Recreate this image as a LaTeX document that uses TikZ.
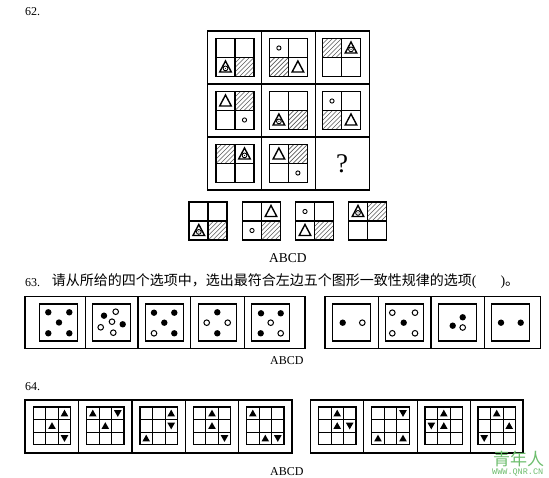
\documentclass[tikz,border=0pt]{standalone}
\usepackage{fontspec}
\setmainfont{Liberation Serif}
\newfontfamily\cjk{Noto Sans CJK SC}
\newfontfamily\wmmono{Liberation Mono}
\definecolor{wmgreen}{RGB}{110,190,110}
\tikzset{
 bigline/.style={line width=1.5pt},
 figline/.style={line width=1.7pt},
 markline/.style={line width=1.4pt, line join=miter},
 smallring/.style={line width=0.9pt},
 hatchline/.style={line width=0.6pt, black!65},
 boxline/.style={line width=1.1pt},
 dotopen/.style={line width=1pt, fill=white},
 gridouter/.style={line width=1.4pt},
 gridinner/.style={line width=0.7pt},
 lbl/.style={inner sep=0pt, font=\fontsize{12}{14}\selectfont},
}
\def\qTL{-9.5,-9.5}
\def\qTR{9.5,-9.5}
\def\qBL{-9.5,9.5}
\def\qBR{9.5,9.5}
\newcommand{\qhatch}[1]{\begin{scope}[shift={(#1)}]
  \clip (-9.5,-9.5) rectangle (9.5,9.5);
  \foreach \k in {-27,-22.5,...,27} \draw[hatchline] (\k-10,10)--(\k+10,-10);
 \end{scope}}
\newcommand{\qtri}[1]{\begin{scope}[shift={(#1)}]
  \draw[markline] (0,-6)--(5.8,5)--(-5.8,5)--cycle;
 \end{scope}}
\newcommand{\qtric}[1]{\begin{scope}[shift={(#1)}]
  \draw[markline] (0,-6)--(5.8,5)--(-5.8,5)--cycle;
  \draw[smallring] (0,1.4) circle (2.4);
  \fill (0,1.4) circle (0.6);
 \end{scope}}
\newcommand{\qring}[1]{\begin{scope}[shift={(#1)}]
  \draw[smallring] (0,0) circle (2.1);
 \end{scope}}
\newcommand{\qfig}[3]{\begin{scope}[shift={(#1,#2)}]
  #3
  \draw[figline] (-19,-19) rectangle (19,19);
  \draw[figline] (0,-19)--(0,19) (-19,0)--(19,0);
 \end{scope}}
\newcommand{\dsq}[3]{\begin{scope}[shift={(#1,#2)}]
  \draw[boxline] (-19,-18.5) rectangle (19,18.5);
  #3
 \end{scope}}
\newcommand{\mydotb}[2]{\fill (#1,#2) circle (3.2);}
\newcommand{\mydotw}[2]{\draw[dotopen] (#1,#2) circle (2.8);}
\newcommand{\gfig}[3]{\begin{scope}[shift={(#1,#2)}]
  \draw[gridinner] (-6.25,-18.75)--(-6.25,18.75) (6.25,-18.75)--(6.25,18.75)
                   (-18.75,-6.25)--(18.75,-6.25) (-18.75,6.25)--(18.75,6.25);
  \draw[gridouter] (-18.75,-18.75) rectangle (18.75,18.75);
  #3
 \end{scope}}
\newcommand{\gup}[2]{\fill[shift={({(#2-2)*12.5},{(#1-2)*12.5})}] (0,-3.6)--(3.8,3.1)--(-3.8,3.1)--cycle;}
\newcommand{\gdn}[2]{\fill[shift={({(#2-2)*12.5},{(#1-2)*12.5})}] (0,3.6)--(3.8,-3.1)--(-3.8,-3.1)--cycle;}
\begin{document}
\begin{tikzpicture}[x=1pt,y=-1pt]
\fill[white] (0,0) rectangle (549,478);
\useasboundingbox (0,0) rectangle (549,478);

% ---------- 62 ----------
\node[lbl, anchor=base west] (t62) at (25,15.5) {62.};
\draw[bigline] (207.5,31) rectangle (369.5,190);
\draw[bigline] (261.5,31)--(261.5,190) (315.5,31)--(315.5,190)
               (207.5,84)--(369.5,84) (207.5,137)--(369.5,137);
\qfig{235}{57.5}{\qtric{\qBL}\qhatch{\qBR}}
\qfig{288.4}{57.5}{\qring{\qTL}\qhatch{\qBL}\qtri{\qBR}}
\qfig{341.5}{57.5}{\qhatch{\qTL}\qtric{\qTR}}
\qfig{235}{110.5}{\qtri{\qTL}\qhatch{\qTR}\qring{\qBR}}
\qfig{288.4}{110.5}{\qtric{\qBL}\qhatch{\qBR}}
\qfig{341.5}{110.5}{\qring{\qTL}\qhatch{\qBL}\qtri{\qBR}}
\qfig{235}{163.5}{\qhatch{\qTL}\qtric{\qTR}}
\qfig{288.4}{163.5}{\qtri{\qTL}\qhatch{\qTR}\qring{\qBR}}
\node[inner sep=0pt, font=\fontsize{27}{30}\selectfont] (qm) at (342,164) {?};
\qfig{208.3}{221}{\qtric{\qBL}\qhatch{\qBR}}
\qfig{261.5}{221}{\qtri{\qTR}\qring{\qBL}\qhatch{\qBR}}
\qfig{314.5}{221}{\qring{\qTL}\qtri{\qBL}\qhatch{\qBR}}
\qfig{367.5}{221}{\qtric{\qTL}\qhatch{\qTR}}
\node[lbl, anchor=base west, font=\fontsize{13.5}{15}\selectfont] (ab62) at (269,263) {ABCD};

% ---------- 63 ----------
\node[lbl, anchor=base west] (t63) at (25,287) {63.};
\node[anchor=base west, inner sep=0pt, font=\cjk\fontsize{14}{14}\selectfont] (q63) at (51.7,286)
  {请从所给的四个选项中，选出最符合左边五个图形一致性规律的选项\rmfamily(\hspace{24pt})\cjk 。};
\draw[boxline] (25,296.7) rectangle (305,348.3);
\draw[boxline] (85.2,296.7)--(85.2,348.3) (138,296.7)--(138,348.3)
               (190.9,296.7)--(190.9,348.3) (244.2,296.7)--(244.2,348.3);
\dsq{58.8}{322.5}{}
\mydotb{48.3}{312.3}\mydotb{69.3}{312.3}\mydotb{59}{322.5}\mydotb{48.3}{333.3}\mydotb{69.3}{333.3}
\dsq{111.7}{322.5}{}
\mydotb{104}{315.7}\mydotw{115.7}{311.7}\mydotw{112}{321.7}\mydotb{122.7}{324.3}\mydotw{100.7}{327.3}\mydotw{113.3}{332.7}
\dsq{164.2}{322.5}{}
\mydotb{154}{312.7}\mydotb{174.3}{312.7}\mydotb{164.3}{322.7}\mydotw{154}{333.3}\mydotb{174.3}{333.3}
\dsq{217.5}{322.5}{}
\mydotb{217.3}{312.3}\mydotw{206.7}{322.7}\mydotw{227.7}{322.7}\mydotb{217.3}{333.3}
\dsq{270.8}{322.5}{}
\mydotb{261}{313.3}\mydotb{280.7}{313.3}\mydotw{270.7}{322.7}\mydotb{260.7}{333.3}\mydotw{280.7}{333.3}

\draw[boxline] (325,296.7) rectangle (540.5,348.3);
\draw[boxline] (378.3,296.7)--(378.3,348.3) (431,296.7)--(431,348.3) (484.3,296.7)--(484.3,348.3);
\dsq{351.7}{322.5}{}
\mydotb{342.7}{322.7}\mydotw{362.3}{322.7}
\dsq{404.2}{322.5}{}
\mydotw{392.3}{312.7}\mydotw{415}{312.7}\mydotb{403.7}{322.7}\mydotw{392.3}{333.3}\mydotw{415}{333.3}
\dsq{457.5}{322.5}{}
\mydotb{462.7}{317.3}\mydotb{452.7}{325.7}\mydotw{462.7}{327.5}
\dsq{510.5}{322.5}{}
\mydotb{501}{322.7}\mydotb{520.7}{322.7}
\node[lbl, anchor=base west] (ab63) at (270,365) {ABCD};

% ---------- 64 ----------
\node[lbl, anchor=base west] (t64) at (25,390) {64.};
\draw[boxline] (25,400) rectangle (292,453);
\draw[boxline] (78.7,400)--(78.7,453) (132,400)--(132,453)
               (185.3,400)--(185.3,453) (238.7,400)--(238.7,453);
\gfig{52}{425.8}{\gup{1}{3}\gup{2}{2}\gdn{3}{3}}
\gfig{105.3}{425.8}{\gup{1}{1}\gdn{1}{3}\gup{2}{2}}
\gfig{158.7}{425.8}{\gup{1}{3}\gdn{2}{3}\gup{3}{1}}
\gfig{212}{425.8}{\gup{1}{2}\gup{2}{2}\gdn{3}{3}}
\gfig{265.3}{425.8}{\gup{1}{1}\gup{3}{2}\gdn{3}{3}}
\draw[boxline] (310.7,400) rectangle (523,453);
\draw[boxline] (363.8,400)--(363.8,453) (417.2,400)--(417.2,453) (470.5,400)--(470.5,453);
\gfig{337.2}{425.8}{\gup{1}{2}\gup{2}{2}\gdn{2}{3}}
\gfig{390.5}{425.8}{\gdn{1}{3}\gup{3}{1}\gup{3}{3}}
\gfig{443.8}{425.8}{\gup{1}{2}\gdn{2}{1}\gup{2}{2}}
\gfig{496.7}{425.8}{\gup{1}{2}\gup{2}{3}\gdn{3}{1}}
\node[lbl, anchor=base west] (ab64) at (270,475) {ABCD};

% ---------- watermark ----------
\node[anchor=base west, inner sep=0pt, text=wmgreen, font=\cjk\fontsize{17}{17}\selectfont] (wm1) at (493,465.5) {青年人};
\node[anchor=base west, inner sep=0pt, text=wmgreen, font=\wmmono\fontsize{8.5}{9}\selectfont] (wm2) at (492,474.5) {WWW.QNR.CN};
\end{tikzpicture}
\end{document}
